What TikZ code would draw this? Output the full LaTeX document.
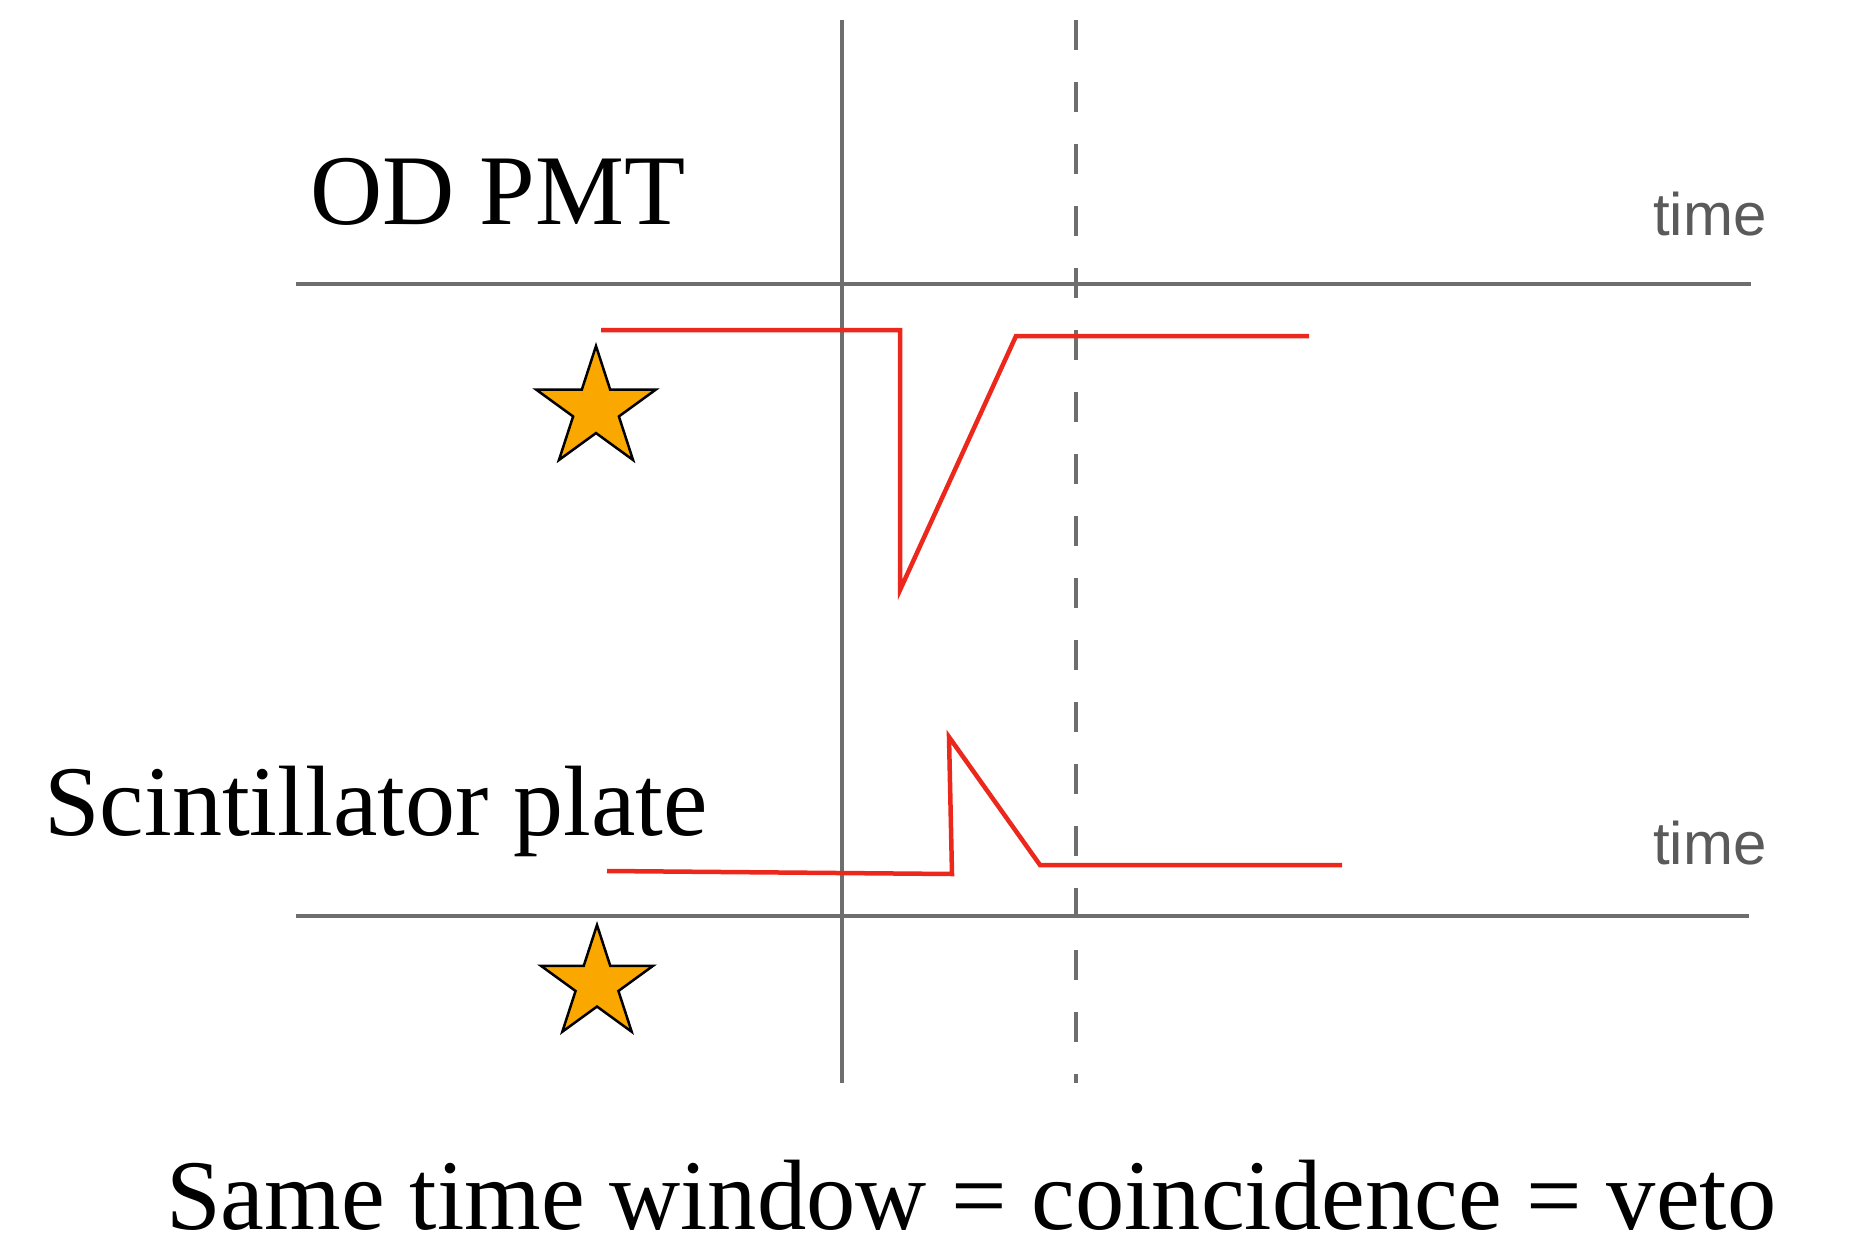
\documentclass[tikz,border=0pt]{standalone}
\usepackage{fontspec}
\setmainfont{Liberation Serif}
\newfontfamily\timefont{Liberation Sans}
\usetikzlibrary{shapes.geometric}
\definecolor{axisgray}{RGB}{110,110,110}
\definecolor{labelgray}{RGB}{90,90,90}
\definecolor{sigred}{RGB}{236,40,28}
\definecolor{starorange}{RGB}{250,168,0}
\tikzset{
  axisline/.style={draw=axisgray,line width=4pt},
  markerline/.style={draw=axisgray,line width=3.5pt},
  dashline/.style={draw=axisgray,line width=3.5pt,dash pattern=on 30pt off 32pt},
  signal/.style={draw=sigred,line width=4.5pt,line join=miter},
  bigtext/.style={anchor=base west,inner sep=0pt,font=\fontsize{100}{110}\selectfont},
  timelabel/.style={anchor=base west,inner sep=0pt,text=labelgray,font=\timefont\fontsize{60}{70}\selectfont},
  starshape/.style={star,star points=5,star point ratio=2.618,inner sep=0pt,fill=starorange,draw=black,line width=2.5pt,shape border rotate=0}
}
\begin{document}
\begin{tikzpicture}[x=1pt,y=-1pt]
\path[use as bounding box,fill=white] (0,0) rectangle (1849,1244);
% axes
\coordinate (a1l) at (296,284); \coordinate (a1r) at (1751,284);
\coordinate (a2l) at (296,916); \coordinate (a2r) at (1749,916);
\coordinate (vt) at (842,20); \coordinate (vb) at (842,1083);
\coordinate (dt) at (1076,20); \coordinate (db) at (1076,1083);
\draw[axisline] (a1l) -- (a1r);
\draw[axisline] (a2l) -- (a2r);
\draw[markerline] (vt) -- (vb);
\draw[dashline] (dt) -- (db);
% top signal
\coordinate (s1) at (601,330); \coordinate (s2) at (900,330);
\coordinate (s3) at (900,590); \coordinate (s4) at (1016,336);
\coordinate (s5) at (1309,336);
\draw[signal] (s1) -- (s2) -- (s3) -- (s4) -- (s5);
% bottom signal
\coordinate (b1) at (607,871); \coordinate (b2) at (952,874);
\coordinate (b3) at (949,737); \coordinate (b4) at (1040,865);
\coordinate (b5) at (1342,865);
\draw[signal] (b1) -- (b2) -- (b3) -- (b4) -- (b5);
% stars
\node[starshape,minimum size=126pt] (star1) at (596,409) {};
\node[starshape,minimum size=118pt] (star2) at (597,984) {};
% labels
\node[bigtext] (od) at (310,224) {OD PMT};
\node[bigtext] (sc) at (44,835) {Scintillator plate};
\node[timelabel] (t1) at (1653,235) {time};
\node[timelabel] (t2) at (1653,864) {time};
\node[bigtext] (cap) at (166,1229) {\scalebox{0.985}[1]{Same time window = coincidence = veto}};
\end{tikzpicture}
\end{document}
